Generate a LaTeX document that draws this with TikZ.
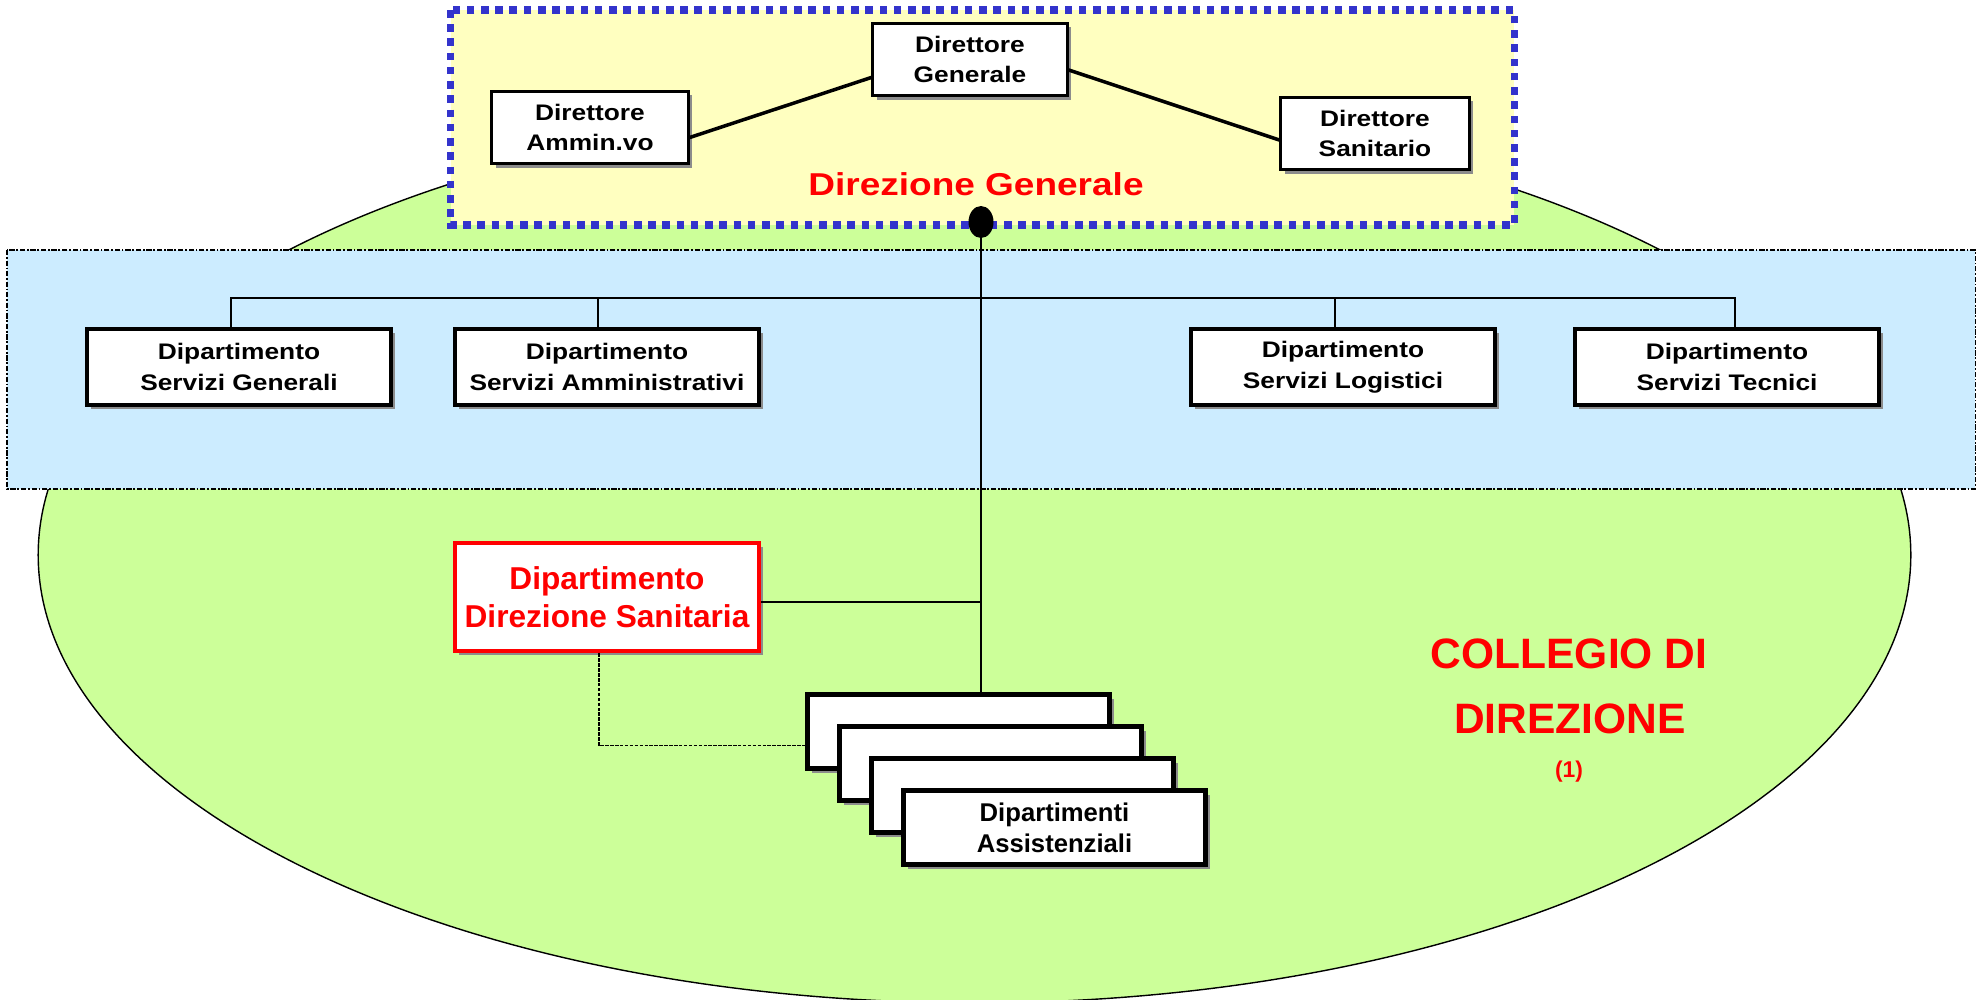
\documentclass[tikz,border=0pt]{standalone}
\usepackage{fontspec}
\usetikzlibrary{shapes.geometric,shadows}
\newfontfamily\boxfont[FakeStretch=1.17]{Liberation Sans}
\newfontfamily\plainfont{Liberation Sans}
\definecolor{dirfill}{HTML}{FFFFC0}
\definecolor{dirline}{HTML}{3333CC}
\definecolor{collfill}{HTML}{CCFF99}
\definecolor{deptfill}{HTML}{CCECFF}

\begin{document}
\begin{tikzpicture}[x=0.02cm,y=-0.02cm,
 boxshadow/.style ={drop shadow={shadow xshift=2.4pt,shadow yshift=-2.4pt,fill=black!45,opacity=1}},
 director/.style ={draw=black,line width=1.7pt,fill=white,inner sep=0pt,align=center,minimum height=1.45cm,font=\boxfont\bfseries\fontsize{12.8}{17.6}\selectfont,boxshadow},
 department/.style ={draw=black,line width=2.5pt,fill=white,inner sep=0pt,align=center,minimum width=6.08cm,minimum height=1.52cm,font=\boxfont\bfseries\fontsize{12.8}{17.6}\selectfont,boxshadow},
 healthdept/.style ={draw=red,text=red,line width=2.8pt,fill=white,inner sep=0pt,align=center,minimum width=6.08cm,minimum height=2.16cm,font=\plainfont\bfseries\fontsize{18}{21.5}\selectfont,boxshadow},
 care/.style ={draw=black,line width=2.6pt,fill=white,inner sep=0pt,align=center,minimum width=6.04cm,minimum height=1.48cm,font=\plainfont\bfseries\fontsize{14.6}{17.8}\selectfont,boxshadow},
 link/.style ={-,draw=black,line width=1.1pt},
 boardlink/.style ={-,draw=black,line width=2pt},
 sublink/.style ={-,draw=black,line width=0.8pt,dash pattern=on 2pt off 0.8pt},
 dot/.style ={ellipse,fill=black,inner sep=0pt,minimum width=0.5cm,minimum height=0.64cm},
 board/.style ={fill=dirfill,draw=dirline,line width=4pt,dash pattern=on 4.3pt off 3.8pt},
 deptarea/.style ={fill=deptfill,draw=black,line width=0.6pt,dash pattern=on 3pt off 1pt on 1pt off 1pt},
 college/.style ={fill=collfill,draw=black,line width=0.8pt},
 title/.style ={text=red,anchor=base,inner sep=0pt}
 ]
\useasboundingbox (0,0) rectangle (1980,1000);
%draw collegio ellipse
\draw[college] (974.5,555) ellipse [x radius=18.73cm, y radius=8.96cm];
%draw direzione generale area
\draw[board] (450.5,10) rectangle (1514,225);
%draw departments area
\draw[deptarea] (7,250) rectangle (1975,489);
%draw directors
\node[director,minimum width=3.89cm] (dg) at (970,59.5) {Direttore\\Generale};
\node[director,minimum width=3.93cm] (amm) at (590,127.5) {Direttore\\Ammin.vo};
\node[director,minimum width=3.77cm] (san) at (1375,133.5) {Direttore\\Sanitario};
\draw[boardlink] ([yshift=-0.2cm]amm.east) -- ([yshift=-0.36cm]dg.west);
\draw[boardlink] ([yshift=-0.21cm]dg.east) -- ([yshift=-0.13cm]san.west);
\node[title,font=\boxfont\bfseries\fontsize{18}{22}\selectfont] (dgtitle) at (976,195) {Direzione Generale};
%draw service departments
\node[department] (servgen) at (239,367) {Dipartimento\\Servizi Generali};
\node[department] (servamm) at (607,367) {Dipartimento\\Servizi Amministrativi};
\node[department] (servlog) at (1343,367) {Dipartimento\\Servizi Logistici};
\node[department] (servtec) at (1727,367) {Dipartimento\\Servizi Tecnici};
%draw health direction department
\node[healthdept] (dirsan) at (607,597) {Dipartimento\\Direzione Sanitaria};
%draw care departments stack
\node[care] (care1) at (958.5,731.7) {};
\node[care] (care2) at (990.5,763.7) {};
\node[care] (care3) at (1022.5,795.7) {};
\node[care] (care4) at (1054.5,827.7) {Dipartimenti\\Assistenziali};
%draw dot and connectors
\node[dot] (dot) at (981,222) {};
\coordinate (bus) at (982,298);
\draw[link] ([xshift=-0.16cm]servgen.north) |- ([xshift=0.16cm]servtec.north |- bus) -- ([xshift=0.16cm]servtec.north);
\draw[link] ([xshift=-0.18cm]servamm.north) -- ([xshift=-0.18cm]servamm.north |- bus);
\draw[link] ([xshift=-0.16cm]servlog.north) -- ([xshift=-0.16cm]servlog.north |- bus);
\draw[link] (dot) -- (dot |- care1.north);
\draw[link] ([yshift=-0.1cm]dirsan.east) -- ([yshift=-0.1cm]dirsan.east -| dot);
\draw[sublink] ([xshift=-0.16cm]dirsan.south) |- ([yshift=-0.28cm]care1.west);
%draw collegio label
\node[title,font=\plainfont\bfseries\fontsize{24.2}{30}\selectfont] (coll1) at (1569,668) {COLLEGIO DI};
\node[title,font=\plainfont\bfseries\fontsize{24.2}{30}\selectfont] (coll2) at (1570,733) {DIREZIONE};
\node[title,font=\plainfont\bfseries\fontsize{13}{16}\selectfont] (coll3) at (1569,777) {(1)};
\end{tikzpicture}
\end{document}
